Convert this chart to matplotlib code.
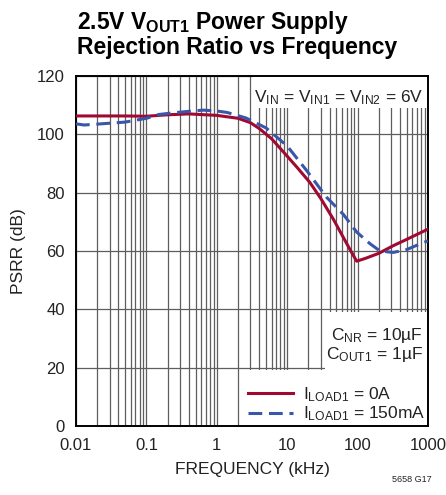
import matplotlib
matplotlib.use('Agg')
import matplotlib.pyplot as plt
from matplotlib.patches import Rectangle
from matplotlib.ticker import FixedLocator, NullFormatter

plt.rcParams['font.family'] = ['Liberation Sans Narrow', 'Liberation Sans', 'DejaVu Sans']
plt.rcParams['mathtext.default'] = 'regular'

# courbe I_LOAD1 = 0A
freq_0a = [0.01, 0.02, 0.05, 0.1, 0.2, 0.4, 1, 2, 3, 4, 6, 10, 14, 21, 30, 45, 60, 78, 97,
           130, 200, 320, 500, 700, 1000]
psrr_0a = [106.3, 106.3, 106.3, 106.2, 106.7, 107.0, 106.5, 105.5, 104.0, 102.0, 98.5, 92.5,
           88.5, 83.5, 78.0, 71.0, 65.5, 60.5, 56.5, 57.5, 59.2, 61.8, 64.0, 65.7, 67.5]

# courbe I_LOAD1 = 150mA
freq_150 = [0.01, 0.013, 0.02, 0.05, 0.1, 0.15, 0.27, 0.45, 0.64, 1, 1.4, 2.6, 5, 10, 19,
            36, 63, 97, 150, 208, 320, 500, 700, 1000]
psrr_150 = [103.6, 103.2, 103.5, 104.2, 105.5, 106.8, 107.5, 108.0, 108.3, 108.0, 107.5,
            105.6, 102.2, 96.0, 87.5, 78.5, 72.5, 66.5, 62.5, 60.0, 59.5, 60.5, 62.0, 63.5]

x_ticks = [0.01, 0.1, 1, 10, 100, 1000]
x_labels = ['0.01', '0.1', '1', '10', '100', '1000']
y_ticks = [0, 20, 40, 60, 80, 100, 120]

red = '#a00a32'
blue = '#3a56a8'
grid_col = '#5e5e5e'
txt_col = '#222222'

fig = plt.figure(figsize=(4.46, 4.95), dpi=100)
ax = fig.add_axes([76 / 446, 1 - 426 / 495, 352 / 446, 350 / 495])

ax.plot(freq_0a, psrr_0a, color=red, lw=2.2, zorder=3, label='$I_{LOAD1}$ = 0A')
ax.plot(freq_150, psrr_150, color=blue, lw=2.2, dashes=(4.5, 2.2), zorder=3,
        label='$I_{LOAD1}$ = 150mA')

ax.set_xscale('log')
ax.set_xlim(0.01, 1000)
ax.set_ylim(0, 120)
ax.set_xticks(x_ticks)
ax.set_xticklabels(x_labels)
ax.xaxis.set_minor_locator(FixedLocator([m * 10.0 ** e for e in range(-2, 3) for m in range(2, 10)]))
ax.xaxis.set_minor_formatter(NullFormatter())
ax.set_yticks(y_ticks)

ax.grid(True, which='both', color=grid_col, lw=0.9)
ax.tick_params(which='both', length=0, labelsize=12, colors=txt_col)
ax.tick_params(axis='x', pad=9)
ax.tick_params(axis='y', pad=8)
for s in ax.spines.values():
    s.set_linewidth(1.4)
    s.set_color('black')

# zones blanches derrière les annotations
for (x0, y0, w, h) in [(0.503, 0.909, 0.497, 0.091), (0.707, 0.16, 0.293, 0.166),
                       (0.472, 0.0, 0.528, 0.16)]:
    ax.add_patch(Rectangle((x0, y0), w, h, transform=ax.transAxes,
                           facecolor='white', edgecolor='none', zorder=1.8))

ax.text(0.985, 0.937, '$V_{IN}$ = $V_{IN1}$ = $V_{IN2}$ = 6V', transform=ax.transAxes,
        ha='right', va='center', fontsize=12.5, color=txt_col, zorder=4)
ax.text(0.985, 0.231, '$C_{NR}$ = 10µF\n$C_{OUT1}$ = 1µF', transform=ax.transAxes,
        ha='right', va='center', fontsize=12.5, color=txt_col, linespacing=1.05, zorder=4)

leg = ax.legend(loc='lower right', fontsize=12.5, frameon=False,
                handlelength=2.6, handletextpad=0.6, borderaxespad=0.0,
                borderpad=0.15, labelspacing=0.05)
for t in leg.get_texts():
    t.set_color(txt_col)

ax.set_xlabel('FREQUENCY (kHz)', fontsize=12.5, color=txt_col, labelpad=6)
ax.set_ylabel('PSRR (dB)', fontsize=12.5, color=txt_col, labelpad=8)

fig.text(77 / 446, 1 - 9 / 495, '2.5V $V_{OUT1}$ Power Supply\nRejection Ratio vs Frequency',
         ha='left', va='top', fontsize=16.5, fontweight='bold', color='black', linespacing=0.98)
fig.text(432 / 446, 1 - 480 / 495, '5658 G17', ha='right', va='center', fontsize=6.5,
         color=txt_col)

fig.savefig('out.png', dpi=100)
